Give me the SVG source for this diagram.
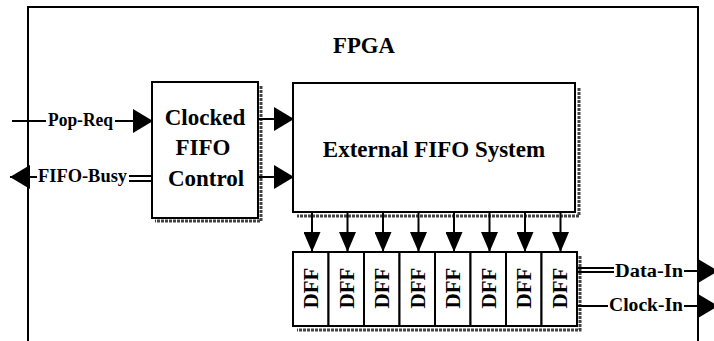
<svg xmlns="http://www.w3.org/2000/svg" width="714" height="341" viewBox="0 0 714 341">
  <style>
    .frame{fill:none;stroke:#000;stroke-width:2}
    .box{fill:#fff;stroke:#000;stroke-width:2}
    .shadow{fill:none;stroke:#444;stroke-width:3;stroke-dasharray:3 1}
    .wire{fill:none;stroke:#000;stroke-width:2}
    .t{font-family:"Liberation Serif","Times New Roman",serif;font-weight:bold;fill:#000}
    .big{font-size:23px;text-anchor:middle}
    .lbl{font-size:18px}
    .dff{font-size:21px;text-anchor:middle}
  </style>
  <defs>
    <marker id="arrow" markerUnits="userSpaceOnUse" markerWidth="20" markerHeight="24" viewBox="0 0 20 24" refX="20" refY="12" orient="auto">
      <path d="M0,0 L20,12 L0,24 z" fill="#000"/>
    </marker>
    <marker id="arrow-down" markerUnits="userSpaceOnUse" markerWidth="20" markerHeight="17" viewBox="0 0 20 17" refX="20" refY="8.5" orient="auto">
      <path d="M0,0 L20,8.5 L0,17 z" fill="#000"/>
    </marker>
  </defs>

  <rect width="714" height="341" fill="#fff"/>

  <!-- FPGA boundary, open at the bottom -->
  <g id="fpga">
    <path class="frame" d="M28,341 V7 H698 V341"/>
    <text class="t big" x="364" y="53" textLength="62" lengthAdjust="spacingAndGlyphs">FPGA</text>
  </g>

  <g id="clocked-fifo-control">
    <path class="shadow" d="M261,86 V221 H155"/>
    <rect class="box" x="152" y="82" width="106" height="136"/>
    <text class="t big" x="205" y="125">Clocked</text>
    <text class="t big" x="203" y="155">FIFO</text>
    <text class="t big" x="206" y="186">Control</text>
  </g>

  <g id="external-fifo-system">
    <path class="shadow" d="M579,88 V216 H297"/>
    <rect class="box" x="293" y="83" width="282" height="129"/>
    <text class="t big" x="434" y="157">External FIFO System</text>
  </g>

  <!-- register bank: eight D flip-flops -->
  <g id="dff-bank">
    <path class="shadow" d="M580,256 V330 H297"/>
    <g id="dff-1"><rect class="box" x="293" y="252" width="35.5" height="74"/><text class="t dff" transform="translate(318,288) rotate(-90)">DFF</text></g>
    <g id="dff-2"><rect class="box" x="328.5" y="252" width="35.5" height="74"/><text class="t dff" transform="translate(353.5,288) rotate(-90)">DFF</text></g>
    <g id="dff-3"><rect class="box" x="364" y="252" width="35.5" height="74"/><text class="t dff" transform="translate(389,288) rotate(-90)">DFF</text></g>
    <g id="dff-4"><rect class="box" x="399.5" y="252" width="35.5" height="74"/><text class="t dff" transform="translate(424.5,288) rotate(-90)">DFF</text></g>
    <g id="dff-5"><rect class="box" x="435" y="252" width="35.5" height="74"/><text class="t dff" transform="translate(460,288) rotate(-90)">DFF</text></g>
    <g id="dff-6"><rect class="box" x="470.5" y="252" width="35.5" height="74"/><text class="t dff" transform="translate(495.5,288) rotate(-90)">DFF</text></g>
    <g id="dff-7"><rect class="box" x="506" y="252" width="35.5" height="74"/><text class="t dff" transform="translate(531,288) rotate(-90)">DFF</text></g>
    <g id="dff-8"><rect class="box" x="541.5" y="252" width="35.5" height="74"/><text class="t dff" transform="translate(566.5,288) rotate(-90)">DFF</text></g>
  </g>

  <g id="connectors">
    <!-- Pop-Req into the control block -->
    <line class="wire" x1="12" y1="121" x2="46" y2="121"/>
    <line class="wire" x1="115" y1="121" x2="153" y2="121" marker-end="url(#arrow)"/>
    <text class="t lbl" x="48" y="126" textLength="65" lengthAdjust="spacingAndGlyphs">Pop-Req</text>

    <!-- FIFO-Busy out of the control block -->
    <line class="wire" x1="37" y1="177" x2="10" y2="177" marker-end="url(#arrow)"/>
    <line class="wire" x1="129" y1="176" x2="152" y2="176" stroke-width="1.5"/>
    <line class="wire" x1="129" y1="181" x2="152" y2="181" stroke-width="1.5"/>
    <text class="t lbl" x="38" y="182" textLength="89" lengthAdjust="spacingAndGlyphs">FIFO-Busy</text>

    <!-- control block to external FIFO -->
    <line class="wire" x1="258" y1="119" x2="294" y2="119" marker-end="url(#arrow)"/>
    <line class="wire" x1="258" y1="177" x2="294" y2="177" marker-end="url(#arrow)"/>

    <!-- external FIFO to each flip-flop -->
    <line class="wire" x1="312" y1="212" x2="312" y2="252" marker-end="url(#arrow-down)"/>
    <line class="wire" x1="347.5" y1="212" x2="347.5" y2="252" marker-end="url(#arrow-down)"/>
    <line class="wire" x1="383" y1="212" x2="383" y2="252" marker-end="url(#arrow-down)"/>
    <line class="wire" x1="418.5" y1="212" x2="418.5" y2="252" marker-end="url(#arrow-down)"/>
    <line class="wire" x1="454" y1="212" x2="454" y2="252" marker-end="url(#arrow-down)"/>
    <line class="wire" x1="489.5" y1="212" x2="489.5" y2="252" marker-end="url(#arrow-down)"/>
    <line class="wire" x1="525" y1="212" x2="525" y2="252" marker-end="url(#arrow-down)"/>
    <line class="wire" x1="560.5" y1="212" x2="560.5" y2="252" marker-end="url(#arrow-down)"/>

    <!-- Data-In -->
    <line class="wire" x1="577" y1="268" x2="614" y2="268" stroke-width="1.5"/>
    <line class="wire" x1="577" y1="272" x2="614" y2="272" stroke-width="1.5"/>
    <line class="wire" x1="684" y1="271" x2="718" y2="271" marker-end="url(#arrow)"/>
    <text class="t lbl" x="615" y="277" textLength="68" lengthAdjust="spacingAndGlyphs">Data-In</text>

    <!-- Clock-In -->
    <line class="wire" x1="577" y1="306" x2="608" y2="306"/>
    <line class="wire" x1="684" y1="306" x2="718" y2="306" marker-end="url(#arrow)"/>
    <text class="t lbl" x="609" y="311" textLength="74" lengthAdjust="spacingAndGlyphs">Clock-In</text>
  </g>
</svg>
